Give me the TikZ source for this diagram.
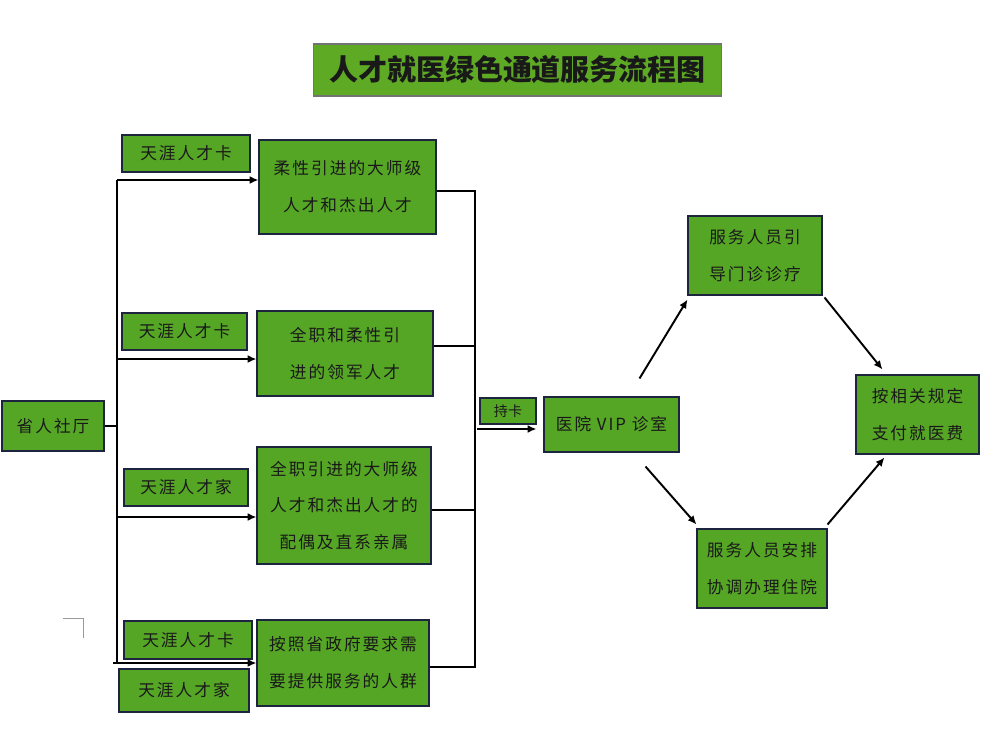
\documentclass[tikz,border=0pt]{standalone}
\usepackage{fontspec}
\usepackage{tikz}
\usetikzlibrary{arrows.meta}
\newfontfamily\cjk[LetterSpace=12]{Noto Sans CJK SC}
\newfontfamily\cjktitle{Noto Sans CJK SC}
\definecolor{leaf}{RGB}{86,166,38}
\definecolor{edge}{RGB}{28,36,64}
\tikzset{
	box/.style={draw=edge, fill=leaf, line width=0.6pt, inner sep=0pt, align=center,
		text=black!90, font=\cjk\fontsize{9.5}{21}\selectfont},
	link/.style={line width=1.1pt},
	flow/.style={line width=1.1pt, -{Latex[length=5pt,width=4.5pt]}}
}
\begin{document}
\begin{tikzpicture}[x=0.02cm, y=-0.02cm]
			\useasboundingbox (0,0) rectangle (988,750);
			
			\node[box, draw=black!55, fill=leaf!95!yellow, minimum width=8.18cm, minimum height=1.04cm,
				font=\cjktitle\bfseries\fontsize{16.5}{20}\selectfont] (title) at (517.5,70) {人才就医绿色通道服务流程图};
			
			\node[box, minimum width=2.04cm, minimum height=1cm] (hall) at (53,426) {省人社厅};
			
			\node[box, minimum width=2.56cm, minimum height=0.74cm] (card1) at (186,153.5) {天涯人才卡};
			\node[box, minimum width=2.5cm, minimum height=0.74cm] (card2) at (184.5,331.5) {天涯人才卡};
			\node[box, minimum width=2.48cm, minimum height=0.74cm] (card3) at (186,487.5) {天涯人才家};
			\node[box, minimum width=2.56cm, minimum height=0.76cm] (card4) at (188,640) {天涯人才卡};
			\node[box, minimum width=2.6cm, minimum height=0.86cm] (card5) at (184,690.5) {天涯人才家};
			
			\node[box, minimum width=3.54cm, minimum height=1.88cm] (master) at (347.5,187) {柔性引进的大师级\\人才和杰出人才};
			\node[box, minimum width=3.52cm, minimum height=1.7cm] (leader) at (345,353.5) {全职和柔性引\\进的领军人才};
			\node[box, minimum width=3.48cm, minimum height=2.34cm] (family) at (344,505.5) {全职引进的大师级\\人才和杰出人才的\\配偶及直系亲属};
			\node[box, minimum width=3.44cm, minimum height=1.72cm] (crowd) at (343,663) {按照省政府要求需\\要提供服务的人群};
			
			\node[box, minimum width=1.12cm, minimum height=0.52cm, font=\cjktitle\fontsize{8}{10}\selectfont] (hold) at (508,411) {持卡};
			\node[box, minimum width=2.7cm, minimum height=1.1cm] (vip) at (611.5,424.5) {医院 VIP 诊室};
			\node[box, minimum width=2.68cm, minimum height=1.58cm] (guide) at (755,255.5) {服务人员引\\导门诊诊疗};
			\node[box, minimum width=2.6cm, minimum height=1.58cm] (stay) at (762,568.5) {服务人员安排\\协调办理住院};
			\node[box, minimum width=2.46cm, minimum height=1.58cm] (pay) at (917.5,414.5) {按相关规定\\支付就医费};
			
			% left bus
			\coordinate (split) at (117,426);
			\coordinate (b1) at (117,180);
			\coordinate (b2) at (117,359);
			\coordinate (b3) at (117,517);
			\coordinate (b4) at (117,663);
			\draw[link] (hall.east |- split) -- (split);
			\draw[link] (b1) -- (b4);
			\draw[flow] (b1) -- (b1 -| master.west);
			\draw[flow] (b2) -- (b2 -| leader.west);
			\draw[flow] (b3) -- (b3 -| family.west);
			\draw[flow] ([xshift=-2]b4) -- (b4 -| crowd.west);
			
			% right bus
			\coordinate (m1) at (475,191);
			\coordinate (m2) at (475,346);
			\coordinate (m3) at (475,510);
			\coordinate (m4) at (475,667);
			\coordinate (m0) at (477,429);
			\draw[link] (m1 -| master.east) -- (m1) -- (m4) -- (m4 -| crowd.east);
			\draw[link] (m2 -| leader.east) -- (m2);
			\draw[link] (m3 -| family.east) -- (m3);
			\draw[flow] (m0) -- ([xshift=-4]m0 -| vip.west);
			
			% hospital loop
			\draw[flow] ([shift={(28,-18)}]vip.north) -- ([shift={(0,4)}]guide.south west);
			\draw[flow] ([shift={(2,2)}]guide.south east) -- ([shift={(27,-5)}]pay.north west);
			\draw[flow] ([shift={(34,14)}]vip.south) -- ([shift={(0,-4)}]stay.north west);
			\draw[flow] ([shift={(0,-4)}]stay.north east) -- ([shift={(29,3)}]pay.south west);
			
			\draw[black!40, line width=0.4pt] (63,618) -- (83,618) -- (83,638);
		\end{tikzpicture}
\end{document}
